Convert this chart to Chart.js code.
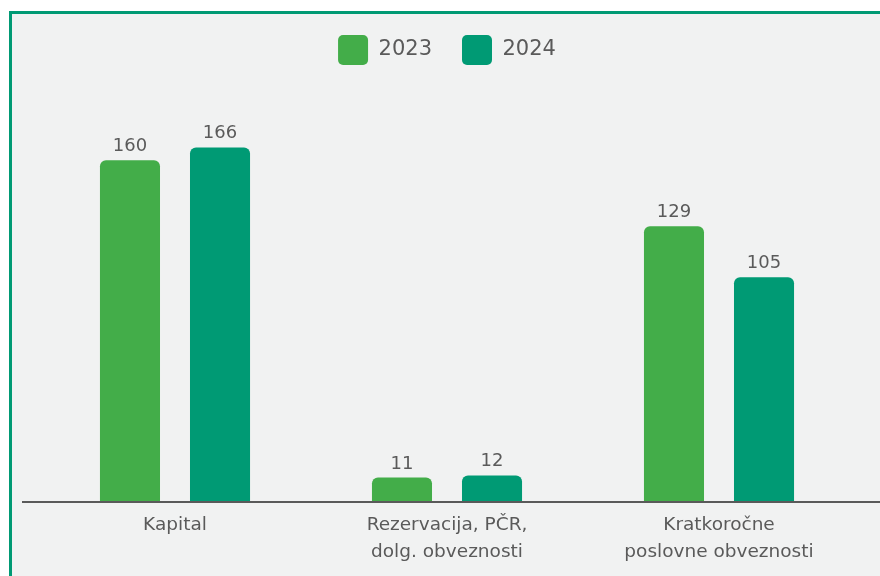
<!DOCTYPE html>
<html>
<head>
<meta charset="utf-8">
<script src="https://cdn.jsdelivr.net/npm/chart.js@4/dist/chart.umd.min.js"></script>
<style>
  html, body { margin: 0; padding: 0; background: #fff; overflow: hidden; }
  body { width: 880px; height: 576px; position: relative; }
  #okvir {
    position: absolute; left: 9px; top: 11px;
    width: 900px; height: 600px;
    border: 3px solid #009a74; background: #f1f2f2;
  }
  #graf-wrap { position: absolute; left: 0; top: 0; width: 880px; height: 576px; }
</style>
</head>
<body>
<div id="okvir"></div>
<div id="graf-wrap"><canvas id="graf"></canvas></div>
<script>
const kategorije = ["Kapital", ["Rezervacija, PČR,", "dolg. obveznosti"], ["Kratkoročne", "poslovne obveznosti"]];
const leta = ["2023", "2024"];
const vrednosti2023 = [160, 11, 129];
const vrednosti2024 = [166, 12, 105];
const barve = ["#43ad49", "#009a74"];

const sivaBesedila = "#5a5a5a";
const pisava = "'DejaVu Sans', sans-serif";

// vrednosti nad stolpci
const oznakeStolpcev = {
  id: "oznakeStolpcev",
  afterDatasetsDraw(chart) {
    const ctx = chart.ctx;
    ctx.save();
    ctx.fillStyle = sivaBesedila;
    ctx.font = "18px " + pisava;
    ctx.textAlign = "center";
    ctx.textBaseline = "alphabetic";
    chart.data.datasets.forEach((ds, i) => {
      chart.getDatasetMeta(i).data.forEach((bar, j) => {
        ctx.fillText(ds.data[j], bar.x, bar.y - 9);
      });
    });
    ctx.restore();
  },
};

// osnovna črta čez celo širino
const osnovnaCrta = {
  id: "osnovnaCrta",
  afterDatasetsDraw(chart) {
    const ctx = chart.ctx;
    const y = chart.scales.y.getPixelForValue(0);
    ctx.save();
    ctx.strokeStyle = "#5a5a5a";
    ctx.lineWidth = 2;
    ctx.beginPath();
    ctx.moveTo(22, y + 1);
    ctx.lineTo(chart.width, y + 1);
    ctx.stroke();
    ctx.restore();
  },
};

new Chart(document.getElementById("graf").getContext("2d"), {
  type: "bar",
  data: {
    labels: kategorije,
    datasets: [
      {
        label: leta[0],
        data: vrednosti2023,
        backgroundColor: barve[0],
        borderRadius: { topLeft: 6, topRight: 6, bottomLeft: 0, bottomRight: 0 },
        borderSkipped: false,
        categoryPercentage: 0.662,
        barPercentage: 0.667,
      },
      {
        label: leta[1],
        data: vrednosti2024,
        backgroundColor: barve[1],
        borderRadius: { topLeft: 6, topRight: 6, bottomLeft: 0, bottomRight: 0 },
        borderSkipped: false,
        categoryPercentage: 0.662,
        barPercentage: 0.667,
      },
    ],
  },
  options: {
    responsive: true,
    maintainAspectRatio: false,
    animation: false,
    layout: {
      padding: { left: 39, right: 25, top: 5, bottom: 7 },
    },
    plugins: {
      tooltip: { enabled: false },
      legend: {
        position: "top",
        labels: {
          boxWidth: 30,
          boxHeight: 30,
          useBorderRadius: true,
          borderRadius: 5,
          padding: 30,
          color: sivaBesedila,
          font: { family: pisava, size: 21 },
        },
      },
    },
    scales: {
      x: {
        grid: { display: false },
        border: { display: false },
        ticks: {
          color: sivaBesedila,
          font: { family: pisava, size: 18.5, lineHeight: 1.46 },
          padding: 3,
          maxRotation: 0,
        },
      },
      y: {
        display: false,
        min: 0,
        max: 200,
      },
    },
  },
  plugins: [oznakeStolpcev, osnovnaCrta],
});
</script>
</body>
</html>
